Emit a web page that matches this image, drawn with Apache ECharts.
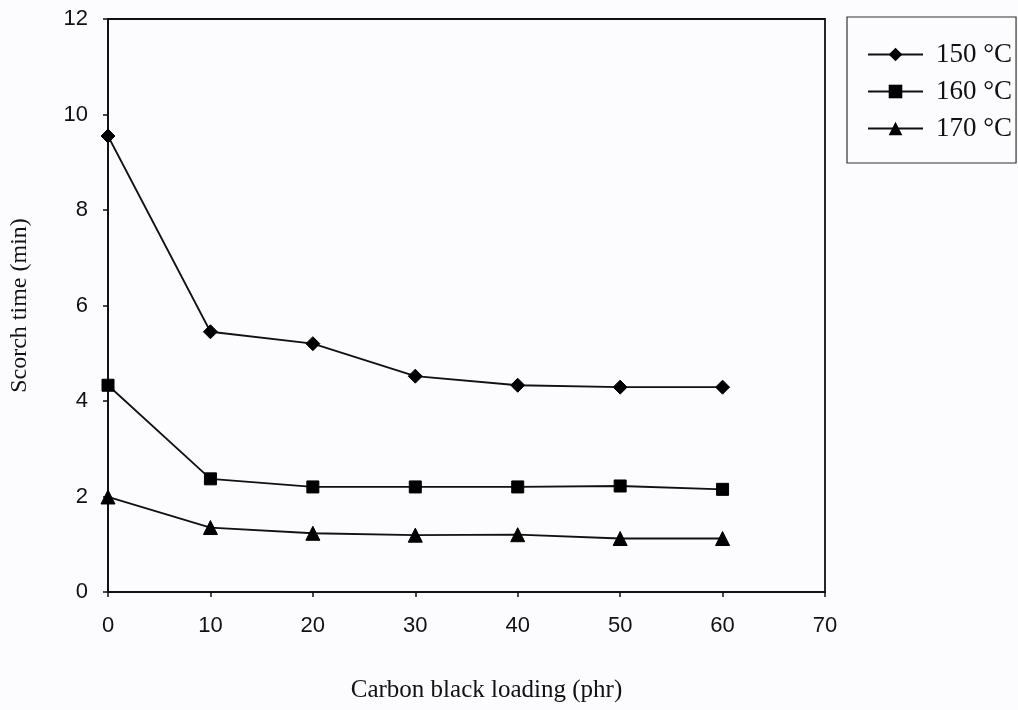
<!DOCTYPE html>
<html>
<head>
<meta charset="utf-8">
<script src="https://cdn.jsdelivr.net/npm/echarts@6/dist/echarts.min.js"></script>
<style>
  html, body { margin: 0; padding: 0; background: #fcfbfd; }
  #chart { width: 1018px; height: 710px; }
</style>
</head>
<body>
<div id="chart"></div>
<script>
// Carbon black loading (phr)
const loading = [0, 10, 20, 30, 40, 50, 60];
// Scorch time (min) at each cure temperature
const t150 = [9.55, 5.45, 5.2, 4.52, 4.33, 4.29, 4.29];
const t160 = [4.33, 2.37, 2.2, 2.2, 2.2, 2.22, 2.15];
const t170 = [1.99, 1.35, 1.23, 1.19, 1.2, 1.12, 1.12];
const seriesNames = ['150 °C', '160 °C', '170 °C'];
const symbols = ['diamond', 'rect', 'triangle'];
const symbolSizes = [14, 12, 14];

const chart = echarts.init(document.getElementById('chart'), null, { renderer: 'canvas' });

function pairs(ys) { return loading.map((x, i) => [x, ys[i]]); }

const sansLabel = { fontFamily: 'Liberation Sans', fontSize: 22, color: '#111' };
const serif = 'Liberation Serif';

chart.setOption({
  backgroundColor: '#fcfbfd',
  animation: false,
  grid: {
    left: 108, right: 193, top: 19, bottom: 118,
    show: true, borderColor: '#111', borderWidth: 1.8, backgroundColor: 'transparent'
  },
  legend: {
    orient: 'vertical',
    left: 847, top: 17,
    padding: [24, 4, 21, 20],
    itemGap: 10,
    itemWidth: 55,
    itemHeight: 17,
    borderColor: '#333',
    borderWidth: 1.2,
    backgroundColor: '#fcfbfd',
    textStyle: { fontFamily: serif, fontSize: 27, color: '#111', lineHeight: 27, padding: [0, 0, 0, 8] },
    data: seriesNames
  },
  xAxis: {
    type: 'value', min: 0, max: 70, interval: 10,
    name: 'Carbon black loading (phr)', nameLocation: 'middle', nameGap: 86,
    nameTextStyle: { fontFamily: serif, fontSize: 25, color: '#111', padding: [0, 0, 0, 40] },
    axisLine: { show: true, lineStyle: { color: '#111', width: 1.8 } },
    axisTick: { show: true, inside: false, length: 5, lineStyle: { color: '#111', width: 1.5 } },
    axisLabel: Object.assign({ margin: 23 }, sansLabel),
    splitLine: { show: false }
  },
  yAxis: {
    type: 'value', min: 0, max: 12, interval: 2,
    name: 'Scorch time (min)', nameLocation: 'middle', nameGap: 76, nameRotate: 90,
    nameTextStyle: { fontFamily: serif, fontSize: 24, color: '#111' },
    axisLine: { show: true, lineStyle: { color: '#111', width: 1.8 } },
    axisTick: { show: true, inside: false, length: 5, lineStyle: { color: '#111', width: 1.5 } },
    axisLabel: Object.assign({ margin: 20 }, sansLabel),
    splitLine: { show: false }
  },
  series: [t150, t160, t170].map((ys, i) => ({
    name: seriesNames[i],
    type: 'line',
    data: pairs(ys),
    symbol: symbols[i],
    symbolSize: symbolSizes[i],
    showAllSymbol: true,
    lineStyle: { color: '#111', width: 1.8 },
    itemStyle: { color: '#000', borderColor: '#000' },
    emphasis: { disabled: true }
  }))
});
</script>
</body>
</html>
